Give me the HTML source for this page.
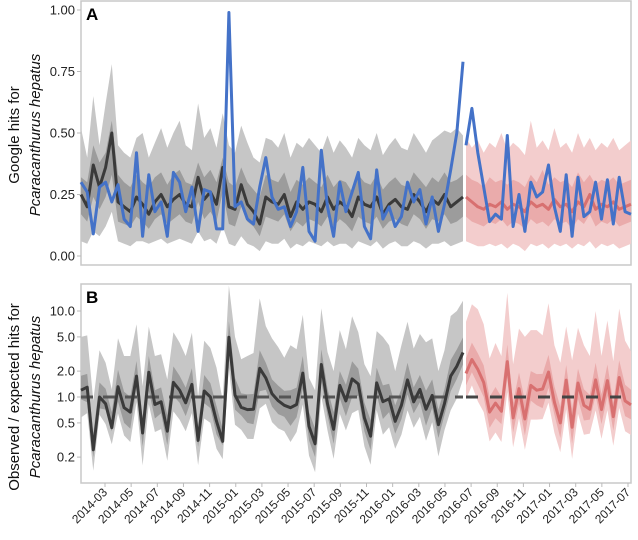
<!DOCTYPE html>
<html><head><meta charset="utf-8">
<style>
body{margin:0;background:#fff;}
svg text{font-family:"Liberation Sans",Arial,sans-serif;}
</style></head>
<body>
<svg id="chart" width="638" height="535" xmlns="http://www.w3.org/2000/svg"></svg>
<script>
const split = 63;
const obs = [0.30,0.26,0.09,0.28,0.30,0.22,0.29,0.15,0.12,0.42,
0.08,0.33,0.18,0.22,0.08,0.34,0.30,0.18,0.28,0.10,
0.27,0.26,0.11,0.11,0.99,0.20,0.22,0.15,0.13,0.28,
0.40,0.24,0.19,0.20,0.12,0.18,0.36,0.10,0.06,0.43,
0.20,0.08,0.30,0.18,0.26,0.34,0.12,0.07,0.35,0.15,
0.20,0.12,0.16,0.30,0.22,0.27,0.13,0.24,0.10,0.21,
0.35,0.50,0.79,0.45,0.60,0.42,0.28,0.14,0.17,0.15,
0.49,0.12,0.25,0.10,0.30,0.24,0.26,0.37,0.20,0.10,
0.33,0.08,0.32,0.16,0.18,0.30,0.15,0.31,0.13,0.32,
0.18,0.17];
const med = [0.25,0.20,0.37,0.28,0.36,0.50,0.22,0.20,0.18,0.24,
0.21,0.17,0.22,0.25,0.20,0.23,0.25,0.21,0.20,0.32,
0.23,0.26,0.21,0.36,0.20,0.19,0.29,0.21,0.18,0.13,
0.24,0.22,0.21,0.25,0.16,0.22,0.19,0.22,0.21,0.18,
0.24,0.19,0.22,0.20,0.16,0.24,0.21,0.20,0.24,0.17,
0.21,0.23,0.20,0.19,0.25,0.22,0.18,0.23,0.21,0.25,
0.20,0.22,0.24,0.24,0.22,0.20,0.19,0.21,0.20,0.22,
0.19,0.21,0.20,0.18,0.22,0.20,0.21,0.19,0.23,0.20,
0.21,0.18,0.22,0.20,0.25,0.19,0.21,0.20,0.22,0.19,
0.20,0.21];
const innerHi = [0.32,0.30,0.45,0.38,0.42,0.55,0.33,0.30,0.28,0.33,
0.30,0.28,0.32,0.34,0.29,0.33,0.35,0.30,0.29,0.38,
0.32,0.35,0.30,0.40,0.30,0.28,0.36,0.30,0.27,0.24,
0.33,0.31,0.30,0.34,0.26,0.31,0.29,0.32,0.30,0.28,
0.33,0.28,0.31,0.30,0.26,0.33,0.30,0.29,0.33,0.27,
0.30,0.32,0.29,0.28,0.34,0.31,0.28,0.32,0.30,0.34,
0.30,0.31,0.33,0.33,0.31,0.30,0.28,0.32,0.30,0.31,
0.29,0.31,0.30,0.28,0.33,0.30,0.35,0.29,0.32,0.30,
0.31,0.28,0.34,0.30,0.33,0.29,0.31,0.30,0.32,0.29,
0.30,0.31];
const innerLo = [0.17,0.14,0.24,0.19,0.24,0.33,0.14,0.13,0.12,0.16,
0.14,0.11,0.15,0.17,0.13,0.15,0.17,0.14,0.13,0.22,
0.15,0.18,0.14,0.26,0.13,0.12,0.20,0.14,0.12,0.08,
0.16,0.15,0.14,0.17,0.10,0.14,0.12,0.15,0.14,0.12,
0.16,0.12,0.15,0.13,0.10,0.16,0.14,0.13,0.16,0.11,
0.14,0.15,0.13,0.12,0.17,0.15,0.11,0.15,0.14,0.17,
0.13,0.14,0.16,0.16,0.14,0.13,0.12,0.14,0.13,0.15,
0.12,0.14,0.13,0.11,0.15,0.13,0.14,0.12,0.15,0.13,
0.14,0.11,0.15,0.13,0.17,0.12,0.14,0.13,0.15,0.12,
0.13,0.14];
const outerHi = [0.52,0.40,0.65,0.45,0.62,0.78,0.45,0.42,0.40,0.48,
0.50,0.40,0.46,0.52,0.44,0.50,0.55,0.45,0.43,0.62,
0.48,0.52,0.44,0.58,0.45,0.42,0.53,0.46,0.40,0.38,
0.48,0.47,0.44,0.50,0.40,0.46,0.44,0.48,0.45,0.42,
0.49,0.42,0.47,0.44,0.40,0.48,0.45,0.43,0.50,0.41,
0.45,0.48,0.44,0.43,0.50,0.46,0.42,0.47,0.49,0.51,
0.50,0.52,0.49,0.48,0.44,0.47,0.42,0.46,0.44,0.50,
0.43,0.46,0.44,0.41,0.55,0.44,0.47,0.43,0.52,0.44,
0.46,0.42,0.50,0.44,0.48,0.43,0.46,0.44,0.48,0.43,
0.45,0.47];
const outerLo = [0.06,0.05,0.10,0.08,0.12,0.18,0.06,0.05,0.04,0.06,
0.06,0.05,0.06,0.07,0.05,0.06,0.07,0.06,0.05,0.10,
0.06,0.07,0.05,0.12,0.05,0.04,0.08,0.05,0.04,0.02,
0.06,0.05,0.05,0.07,0.03,0.05,0.04,0.06,0.05,0.04,
0.06,0.04,0.05,0.05,0.03,0.06,0.05,0.04,0.06,0.03,
0.05,0.06,0.04,0.04,0.06,0.05,0.03,0.05,0.05,0.06,
0.04,0.05,0.06,0.06,0.05,0.04,0.04,0.05,0.04,0.05,
0.03,0.05,0.04,0.02,0.05,0.04,0.05,0.03,0.05,0.04,
0.05,0.03,0.05,0.04,0.06,0.03,0.05,0.04,0.05,0.03,
0.04,0.05];
const xTickLabels = ["2014-03","2014-05","2014-07","2014-09","2014-11","2015-01","2015-03","2015-05","2015-07","2015-09","2015-11","2016-01","2016-03","2016-05","2016-07","2016-09","2016-11","2017-01","2017-03","2017-05","2017-07"];
const aTicks = [0,0.25,0.5,0.75,1.0];
const aTickLabels = ["0.00","0.25","0.50","0.75","1.00"];
const bTicks = [0.2,0.5,1,2,5,10];
const bTickLabels = ["0.2","0.5","1.0","2.0","5.0","10.0"];

const NS="http://www.w3.org/2000/svg";
const svg=document.getElementById('chart');
function mk(tag,attrs,parent){const e=document.createElementNS(NS,tag);for(const k in attrs)e.setAttribute(k,attrs[k]);(parent||svg).appendChild(e);return e;}
const X0=81,X1=631,XS0=463,XS1=466;
const n=obs.length;
function xi(i){
  if(i<split) return X0+i*(XS0-X0)/(split-1);
  return XS1+(i-split)*(X1-XS1)/(n-1-split);
}
function yA(v){return 256-v*246;}
function yB(v){const y=397-86*Math.log10(v);return Math.max(284,Math.min(483,y));}
function xTick(k){return 105+k*26.15;}

function band(lo,hi,a,b,ys,fill,name){
  let d='';
  for(let i=a;i<=b;i++)d+=(i==a?'M':'L')+xi(i).toFixed(1)+','+ys(hi[i]).toFixed(1);
  for(let i=b;i>=a;i--)d+='L'+xi(i).toFixed(1)+','+ys(lo[i]).toFixed(1);
  const p=mk('path',{d:d+'Z',fill:fill});
  
  
}
function line(arr,a,b,ys,stroke,w,name){
  let d='';
  for(let i=a;i<=b;i++)d+=(i==a?'M':'L')+xi(i).toFixed(1)+','+ys(arr[i]).toFixed(1);
  const p=mk('path',{d:d,fill:'none',stroke:stroke,'stroke-width':w,'stroke-linejoin':'round'});
  
  
}
const fa=mk('rect',{x:X0,y:1,width:X1-X0,height:264,fill:'none',stroke:'#c8c8c8','stroke-width':1.5});


const fb=mk('rect',{x:X0,y:284,width:X1-X0,height:199,fill:'none',stroke:'#c8c8c8','stroke-width':1.5});



const pre=[0,split-1],post=[split,n-1];
band(outerLo,outerHi,pre[0],pre[1],yA,'#c6c6c6','a-outer-band-pre');
band(innerLo,innerHi,pre[0],pre[1],yA,'#9c9c9c','a-inner-band-pre');
band(outerLo,outerHi,post[0],post[1],yA,'#f3cdcd','a-outer-band-post');
band(innerLo,innerHi,post[0],post[1],yA,'#eaabab','a-inner-band-post');
line(med,pre[0],pre[1],yA,'#3a3a3a',3,'a-expected-line-pre');
line(med,post[0],post[1],yA,'#d87070',3,'a-expected-line-post');
line(obs,pre[0],pre[1],yA,'#4472c8',3,'a-observed-line-pre');
line(obs,post[0],post[1],yA,'#4472c8',3,'a-observed-line-post');

const rMed=obs.map((v,i)=>v/med[i]);
const rInLo=obs.map((v,i)=>v/innerHi[i]);
const rInHi=obs.map((v,i)=>v/innerLo[i]);
const rOutLo=obs.map((v,i)=>v/outerHi[i]);
const rOutHi=obs.map((v,i)=>v/outerLo[i]);
band(rOutLo,rOutHi,pre[0],pre[1],yB,'#c6c6c6','b-outer-band-pre');
band(rInLo,rInHi,pre[0],pre[1],yB,'#9c9c9c','b-inner-band-pre');
band(rOutLo,rOutHi,post[0],post[1],yB,'#f3cdcd','b-outer-band-post');
band(rInLo,rInHi,post[0],post[1],yB,'#eaabab','b-inner-band-post');
let dl=mk('line',{x1:X0,x2:XS0,y1:yB(1),y2:yB(1),stroke:'#555','stroke-width':3,'stroke-dasharray':'12,10'});


line(rMed,pre[0],pre[1],yB,'#3a3a3a',3,'b-ratio-line-pre');
line(rMed,post[0],post[1],yB,'#d87070',3,'b-ratio-line-post');
dl=mk('line',{x1:XS1,x2:X1-10,y1:yB(1),y2:yB(1),stroke:'#444','stroke-width':3,'stroke-dasharray':'12,12'});



aTicks.forEach((v,k)=>{
  const t=mk('text',{x:75,y:yA(v)+4.5,'text-anchor':'end','font-size':13,fill:'#222'});
  t.textContent=aTickLabels[k];
  
  
  mk('line',{x1:77,x2:81,y1:yA(v),y2:yA(v),stroke:'#bbb'});
});
bTicks.forEach((v,k)=>{
  const t=mk('text',{x:75,y:yB(v)+4.5,'text-anchor':'end','font-size':13,fill:'#222'});
  t.textContent=bTickLabels[k];
  
  
  mk('line',{x1:77,x2:81,y1:yB(v),y2:yB(v),stroke:'#bbb'});
});
xTickLabels.forEach((s,k)=>{
  const x=xTick(k);
  mk('line',{x1:x,x2:x,y1:483,y2:487,stroke:'#bbb'});
  const t=mk('text',{x:x+3,y:493,'text-anchor':'end','font-size':12,fill:'#222',transform:`rotate(-45 ${x+3} 493)`});
  t.textContent=s;
  
  
});
let t=mk('text',{x:86,y:20,'font-size':17,'font-weight':'bold',fill:'#000'});t.textContent='A';


t=mk('text',{x:86,y:303,'font-size':17,'font-weight':'bold',fill:'#000'});t.textContent='B';


function ytitle(x,y,s,italic,name){
  const e=mk('text',{x:x,y:y,'text-anchor':'middle','font-size':15,fill:'#111',transform:`rotate(-90 ${x} ${y})`});
  if(italic)e.setAttribute('font-style','italic');
  e.textContent=s;
  
  
}
ytitle(19,135,'Google hits for',false,'a-y-title-line1');
ytitle(40,135,'Pcaracanthurus hepatus',true,'a-y-title-line2');
ytitle(19,397,'Observed / expected hits for',false,'b-y-title-line1');
ytitle(40,397,'Pcaracanthurus hepatus',true,'b-y-title-line2');
</script>
</body></html>
